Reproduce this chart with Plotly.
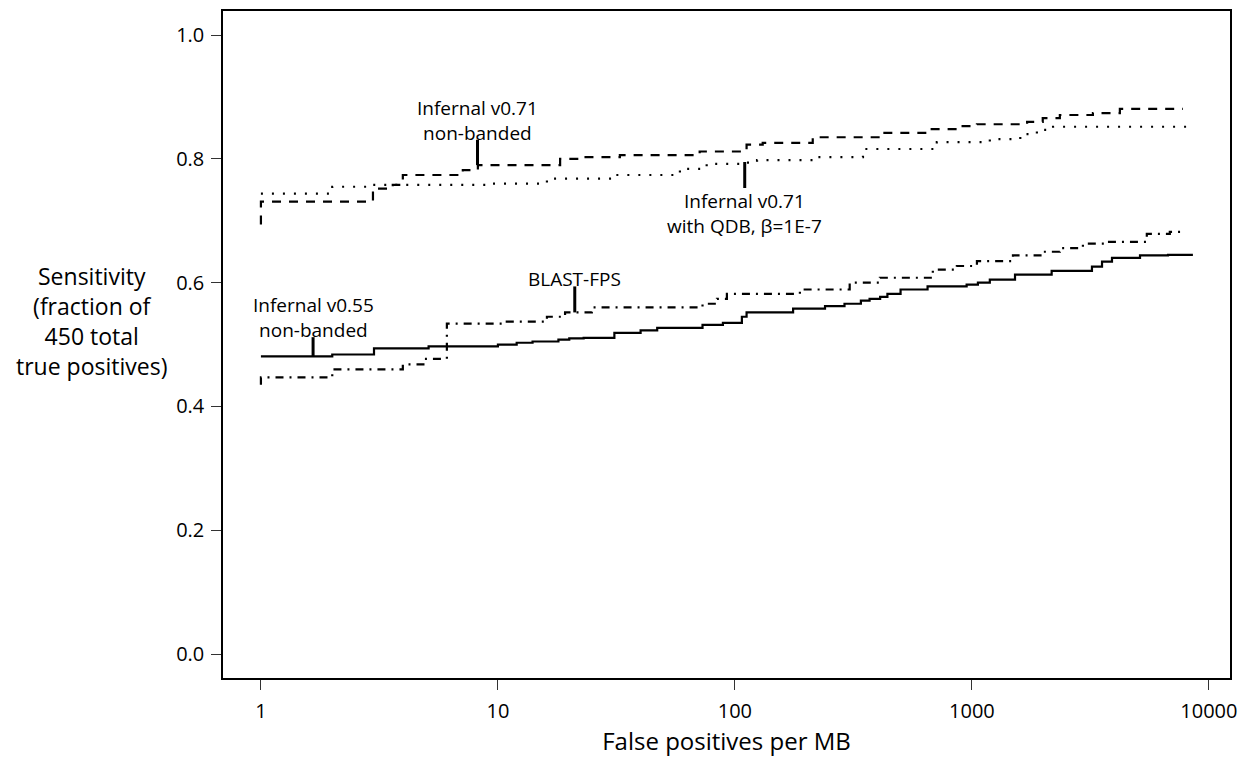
import math
import plotly.graph_objects as go

# ---- data ----
v055_x = [1, 2.0, 3.0, 5.1, 10, 12, 14, 18, 20, 23, 31, 40, 47, 73, 89, 107, 112, 176, 240, 290, 340,
          370, 410, 440, 500, 650, 950, 1060, 1190, 1520, 2170, 3210, 3540, 3900, 5120, 6720, 8560]
v055_y = [0.481, 0.484, 0.494, 0.497, 0.500, 0.503, 0.505, 0.508, 0.510, 0.511, 0.519, 0.523, 0.527,
          0.532, 0.535, 0.545, 0.552, 0.558, 0.562, 0.566, 0.571, 0.574, 0.577, 0.582, 0.589, 0.594,
          0.597, 0.600, 0.605, 0.613, 0.619, 0.626, 0.634, 0.640, 0.644, 0.645, 0.645]

blast_x = [1, 1, 2.0, 3.97, 4.92, 6.09, 10.9, 16.1, 19.2, 24.9, 73, 84, 92.5, 188, 305, 409, 684, 864,
           1050, 1490, 1990, 2350, 2940, 3710, 5470, 6840, 7900]
blast_y = [0.435, 0.447, 0.460, 0.468, 0.477, 0.534, 0.537, 0.545, 0.552, 0.560, 0.566, 0.574, 0.582,
           0.589, 0.600, 0.608, 0.621, 0.627, 0.635, 0.644, 0.650, 0.656, 0.663, 0.666, 0.679, 0.682, 0.683]

v071_x = [1, 1, 2.97, 3.6, 3.97, 7.11, 8.23, 18.3, 22.2, 32.7, 71, 112, 131, 213, 409, 646, 864, 1050,
          1710, 1990, 2350, 3240, 4210, 7770]
v071_y = [0.694, 0.731, 0.752, 0.758, 0.774, 0.782, 0.790, 0.800, 0.803, 0.806, 0.812, 0.823, 0.826,
          0.835, 0.842, 0.848, 0.853, 0.856, 0.860, 0.866, 0.871, 0.874, 0.881, 0.881]

qdb_x = [1, 2.0, 2.97, 9.25, 16.1, 30.6, 58.6, 76, 105, 124, 213, 347, 711, 1190, 1600, 1880, 2200, 8310]
qdb_y = [0.744, 0.755, 0.758, 0.760, 0.768, 0.774, 0.784, 0.792, 0.794, 0.798, 0.803, 0.816, 0.827,
         0.832, 0.840, 0.847, 0.852, 0.852]

x_ticks = [1, 10, 100, 1000, 10000]
x_tick_labels = ["1", "10", "100", "1000", "10000"]
y_ticks = [0.0, 0.2, 0.4, 0.6, 0.8, 1.0]

# label texts with pointer (x, y_start, y_end) and text side
labels = [
    ("Infernal v0.71<br>non-banded", 8.2, 0.790, 0.831, "above"),
    ("Infernal v0.71<br>with QDB, β=1E-7", 110, 0.795, 0.753, "below"),
    ("BLAST-FPS", 21.1, 0.552, 0.594, "above"),
    ("Infernal v0.55<br>non-banded", 1.66, 0.481, 0.512, "above"),
]

FONT = "Open Sans"
fig = go.Figure()

def add(x, y, dash, width):
    fig.add_trace(go.Scatter(x=x, y=y, mode="lines",
                             line=dict(shape="hv", color="black", width=width, dash=dash),
                             showlegend=False, hoverinfo="skip"))

add(v055_x, v055_y, "solid", 2.2)
add(blast_x, blast_y, "8px,6px,2px,6px", 2.2)
add(v071_x, v071_y, "9px,8px", 2.2)
add(qdb_x, qdb_y, "2px,9px", 2.2)

for text, lx, y0, y1, pos in labels:
    fig.add_trace(go.Scatter(x=[lx, lx], y=[y0, y1], mode="lines",
                             line=dict(color="black", width=3), showlegend=False, hoverinfo="skip"))
    fig.add_annotation(x=math.log10(lx), y=y1, text=text, showarrow=False,
                       yanchor="bottom" if pos == "above" else "top",
                       yshift=-8 if pos == "above" else 2,
                       font=dict(family=FONT, size=19, color="black"))

fig.add_annotation(xref="paper", yref="paper", x=-0.131, y=0.535, xanchor="center", yanchor="middle",
                   text="Sensitivity<br>(fraction of<br>450 total<br>true positives)", showarrow=False,
                   align="center", font=dict(family=FONT, size=23, color="black"))

fig.update_layout(
    width=1244, height=751,
    margin=dict(l=215, r=22, t=1, b=81),
    paper_bgcolor="white", plot_bgcolor="white",
    font=dict(family=FONT, size=20, color="black"),
    xaxis=dict(type="log", range=[-0.160, 4.089], tickvals=x_ticks, ticktext=x_tick_labels,
               ticks="outside", ticklen=10, tickwidth=1, tickcolor="#333", ticklabelstandoff=4,
               showline=True, linecolor="black", linewidth=1.5, mirror=True,
               showgrid=False, zeroline=False,
               title=dict(text="False positives per MB", font=dict(family=FONT, size=24), standoff=8),
               tickfont=dict(family=FONT, size=20)),
    yaxis=dict(range=[-0.0387, 1.039], tickvals=y_ticks, tickformat=".1f",
               ticks="outside", ticklen=10, tickwidth=1, tickcolor="#333", ticklabelstandoff=3,
               showline=True, linecolor="black", linewidth=1.5, mirror=True,
               showgrid=False, zeroline=False, tickfont=dict(family=FONT, size=20)),
)

fig.write_html("out.html")
